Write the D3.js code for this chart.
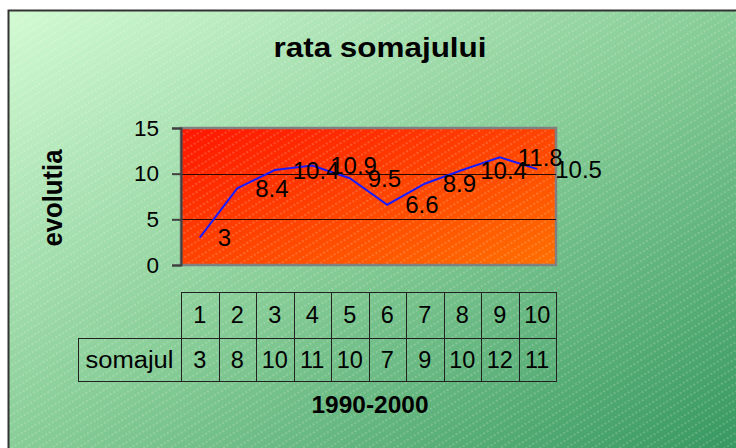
<!DOCTYPE html>
<html>
<head>
<meta charset="utf-8">
<script src="https://cdn.jsdelivr.net/npm/d3@7"></script>
<style>
  body { margin: 0; background: #fff; }
  svg { display: block; font-family: "Liberation Sans", Arial, sans-serif; }
</style>
</head>
<body>
<figure id="chart" style="margin:0"></figure>
<script>
// data
const years = ["1", "2", "3", "4", "5", "6", "7", "8", "9", "10"];
const somajul = [3, 8.4, 10.4, 10.9, 9.5, 6.6, 8.9, 10.4, 11.8, 10.5];
const yTicks = [0, 5, 10, 15];
const seriesName = "somajul";
const title = "rata somajului";
const xTitle = "1990-2000";
const yTitle = "evolutia";

const width = 736, height = 448;
const plot = { left: 181, right: 556, top: 128, bottom: 265 };
const table = { left: 78, top: 292, mid: 338, bottom: 381 };

const svg = d3.select("#chart").append("svg")
  .attr("width", width)
  .attr("height", height);

const defs = svg.append("defs");

// chart area gradient
const bg = defs.append("linearGradient").attr("id", "bgGrad")
  .attr("x1", 0).attr("y1", 0).attr("x2", 1).attr("y2", 1);
bg.append("stop").attr("offset", 0).attr("stop-color", "#d2fad2");
bg.append("stop").attr("offset", 0.5).attr("stop-color", "#86cc96");
bg.append("stop").attr("offset", 1).attr("stop-color", "#34965e");

// plot area gradient
const pg = defs.append("linearGradient").attr("id", "plotGrad")
  .attr("x1", 0).attr("y1", 0).attr("x2", 1).attr("y2", 1);
pg.append("stop").attr("offset", 0).attr("stop-color", "#ff1600");
pg.append("stop").attr("offset", 1).attr("stop-color", "#ff7000");

// faint diagonal dashed stripes
const pat = defs.append("pattern").attr("id", "stripes")
  .attr("patternUnits", "userSpaceOnUse")
  .attr("width", 8).attr("height", 7)
  .attr("patternTransform", "rotate(-32)");
pat.append("line")
  .attr("x1", 0).attr("y1", 1).attr("x2", 8).attr("y2", 1)
  .attr("stroke", "#fff").attr("stroke-opacity", 0.35)
  .attr("stroke-width", 1).attr("stroke-dasharray", "2,2");

// chart area
svg.append("rect")
  .attr("x", 8.5).attr("y", 10.5)
  .attr("width", 740).attr("height", 450)
  .attr("fill", "url(#bgGrad)");
svg.append("rect")
  .attr("x", 8.5).attr("y", 10.5)
  .attr("width", 740).attr("height", 450)
  .attr("fill", "url(#stripes)")
  .attr("stroke", "#333").attr("stroke-width", 2);

// scales
const x = d3.scaleBand()
  .domain(years)
  .range([plot.left, plot.right]);

const y = d3.scaleLinear()
  .domain([0, 15])
  .range([plot.bottom, plot.top]);

// plot area
svg.append("rect")
  .attr("x", plot.left).attr("y", plot.top)
  .attr("width", plot.right - plot.left).attr("height", plot.bottom - plot.top)
  .attr("fill", "url(#plotGrad)");
svg.append("rect")
  .attr("x", plot.left).attr("y", plot.top)
  .attr("width", plot.right - plot.left).attr("height", plot.bottom - plot.top)
  .attr("fill", "url(#stripes)")
  .attr("stroke", "#808080").attr("stroke-width", 2.5);

// gridlines
svg.append("g").selectAll("line")
  .data(yTicks.filter(d => d > 0 && d < 15))
  .enter().append("line")
  .attr("x1", plot.left).attr("x2", plot.right)
  .attr("y1", d => Math.round(y(d)) + 0.5).attr("y2", d => Math.round(y(d)) + 0.5)
  .attr("stroke", "#2a0800").attr("stroke-width", 1);

// y axis
const yAxis = svg.append("g")
  .attr("transform", `translate(${plot.left},0)`)
  .call(d3.axisLeft(y).tickValues(yTicks).tickSize(9).tickPadding(13));
yAxis.select(".domain").attr("stroke", "#404040").attr("stroke-width", 2);
yAxis.selectAll(".tick line").attr("stroke", "#404040").attr("stroke-width", 2);
yAxis.selectAll(".tick text")
  .attr("font-size", 22.5).attr("font-family", "Liberation Sans, Arial, sans-serif")
  .attr("fill", "#000");

// line
const line = d3.line()
  .x((d, i) => x(years[i]) + x.bandwidth() / 2)
  .y(d => y(d));

svg.append("path")
  .datum(somajul)
  .attr("d", line)
  .attr("fill", "none")
  .attr("stroke", "#1a1aff")
  .attr("stroke-width", 2);

// data labels
svg.append("g").selectAll("text")
  .data(somajul)
  .enter().append("text")
  .attr("x", (d, i) => x(years[i]) + x.bandwidth() / 2 + 18)
  .attr("y", d => y(d))
  .attr("dy", "0.36em")
  .attr("font-size", 24)
  .text(d => d);

// data table
const tg = svg.append("g").attr("stroke", "#222").attr("stroke-width", 1).attr("fill", "none");
tg.append("rect")
  .attr("x", plot.left + 0.5).attr("y", table.top + 0.5)
  .attr("width", plot.right - plot.left).attr("height", table.mid - table.top);
tg.append("rect")
  .attr("x", table.left + 0.5).attr("y", table.mid + 0.5)
  .attr("width", plot.right - table.left).attr("height", table.bottom - table.mid);
tg.selectAll("line.col")
  .data(years)
  .enter().append("line")
  .attr("class", "col")
  .attr("x1", d => Math.round(x(d)) + 0.5).attr("x2", d => Math.round(x(d)) + 0.5)
  .attr("y1", table.top).attr("y2", table.bottom);

const fmt = d3.format(".0f");
svg.append("g").selectAll("text")
  .data(years)
  .enter().append("text")
  .attr("x", d => x(d) + x.bandwidth() / 2)
  .attr("y", (table.top + table.mid) / 2)
  .attr("dy", "0.36em")
  .attr("text-anchor", "middle")
  .attr("font-size", 23.5)
  .text(d => d);

svg.append("g").selectAll("text")
  .data(somajul)
  .enter().append("text")
  .attr("x", (d, i) => x(years[i]) + x.bandwidth() / 2)
  .attr("y", (table.mid + table.bottom) / 2)
  .attr("dy", "0.36em")
  .attr("text-anchor", "middle")
  .attr("font-size", 23.5)
  .text(d => fmt(d));

svg.append("text")
  .attr("x", (table.left + plot.left) / 2)
  .attr("y", (table.mid + table.bottom) / 2)
  .attr("dy", "0.36em")
  .attr("text-anchor", "middle")
  .attr("font-size", 23.5)
  .attr("textLength", 88).attr("lengthAdjust", "spacingAndGlyphs")
  .text(seriesName);

// titles
svg.append("text")
  .attr("x", 380).attr("y", 57)
  .attr("text-anchor", "middle")
  .attr("font-size", 28).attr("font-weight", "bold")
  .attr("textLength", 213).attr("lengthAdjust", "spacingAndGlyphs")
  .text(title);

svg.append("text")
  .attr("x", 370).attr("y", 413)
  .attr("text-anchor", "middle")
  .attr("font-size", 24).attr("font-weight", "bold")
  .attr("textLength", 117).attr("lengthAdjust", "spacingAndGlyphs")
  .text(xTitle);

svg.append("text")
  .attr("transform", `translate(62,198) rotate(-90)`)
  .attr("text-anchor", "middle")
  .attr("font-size", 27).attr("font-weight", "bold")
  .attr("textLength", 97).attr("lengthAdjust", "spacingAndGlyphs")
  .text(yTitle);
</script>
</body>
</html>
